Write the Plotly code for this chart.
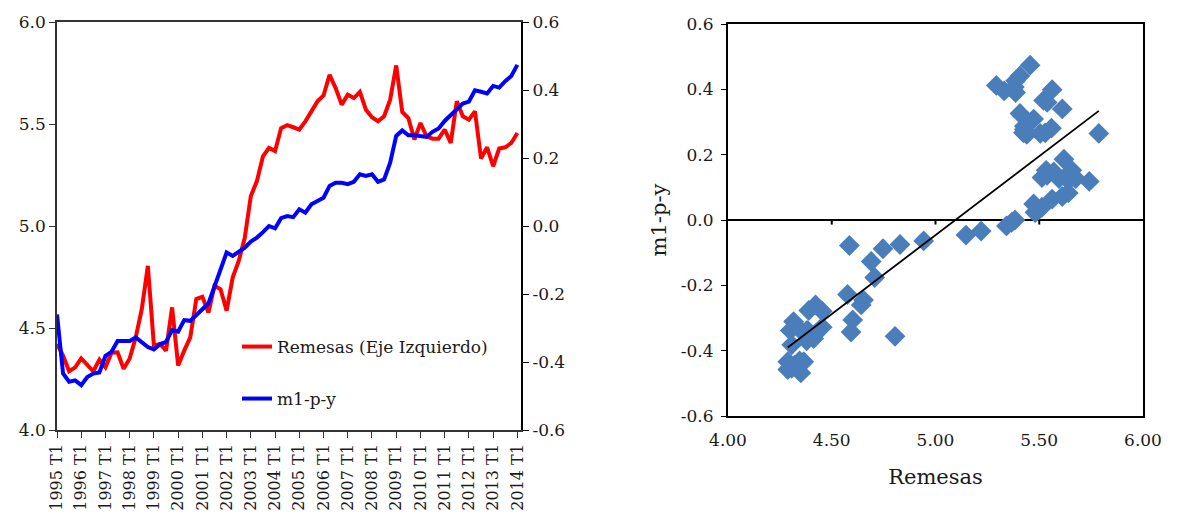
import numpy as np
import plotly.graph_objects as go

# ---------------- data ----------------
tick_labels = ["1995 T1", "1996 T1", "1997 T1", "1998 T1", "1999 T1", "2000 T1", "2001 T1",
               "2002 T1", "2003 T1", "2004 T1", "2005 T1", "2006 T1", "2007 T1", "2008 T1",
               "2009 T1", "2010 T1", "2011 T1", "2012 T1", "2013 T1", "2014 T1"]

remesas = [4.422, 4.365, 4.288, 4.307, 4.351, 4.321, 4.288, 4.345, 4.307, 4.379,
           4.381, 4.300, 4.351, 4.454, 4.593, 4.805, 4.413, 4.422, 4.389, 4.601,
           4.316, 4.389, 4.454, 4.642, 4.653, 4.576, 4.707, 4.690, 4.585, 4.747,
           4.829, 4.943, 5.147, 5.220, 5.342, 5.383, 5.367, 5.480, 5.494, 5.484,
           5.473, 5.513, 5.562, 5.611, 5.640, 5.741, 5.676, 5.595, 5.644, 5.627,
           5.657, 5.570, 5.533, 5.513, 5.538, 5.619, 5.787, 5.559, 5.529, 5.424,
           5.505, 5.440, 5.428, 5.428, 5.473, 5.407, 5.611, 5.538, 5.521, 5.562,
           5.331, 5.386, 5.293, 5.380, 5.386, 5.407, 5.456]

m1py = [-0.260, -0.434, -0.458, -0.454, -0.468, -0.444, -0.434, -0.431, -0.382, -0.370,
        -0.338, -0.338, -0.338, -0.328, -0.343, -0.356, -0.363, -0.348, -0.341, -0.306,
        -0.311, -0.277, -0.279, -0.260, -0.245, -0.228, -0.176, -0.127, -0.078, -0.088,
        -0.075, -0.064, -0.046, -0.034, -0.018, 0.000, -0.007, 0.023, 0.029, 0.026,
        0.049, 0.039, 0.064, 0.072, 0.083, 0.118, 0.127, 0.127, 0.123, 0.130,
        0.152, 0.147, 0.152, 0.130, 0.137, 0.186, 0.265, 0.281, 0.267, 0.267,
        0.265, 0.262, 0.277, 0.287, 0.309, 0.326, 0.340, 0.360, 0.366, 0.399,
        0.395, 0.390, 0.412, 0.407, 0.426, 0.441, 0.474]

left_ticks = [4.0, 4.5, 5.0, 5.5, 6.0]
right_ticks = [-0.6, -0.4, -0.2, 0.0, 0.2, 0.4, 0.6]
sc_x_ticks = [4.0, 4.5, 5.0, 5.5, 6.0]
sc_y_ticks = [-0.6, -0.4, -0.2, 0.0, 0.2, 0.4, 0.6]

# ---------------- derived ----------------
idx = list(range(len(remesas)))
tick_pos = idx[::4]
fmt1 = lambda v: f"{v:.1f}"
fmt2 = lambda v: f"{v:.2f}"

slope, intercept = np.polyfit(remesas, m1py, 1)
fit_x = [min(remesas), max(remesas)]
fit_y = [slope * v + intercept for v in fit_x]

FONT = "DejaVu Serif"
TXT = "#1a1a1a"
W, H = 1182, 516
OFF = 8  # page body margin

def px_x(a, b):
    return [(a - OFF) / W, (b - OFF) / W]

def px_y(top, bottom):
    return [1 - (bottom - OFF) / H, 1 - (top - OFF) / H]

fig = go.Figure()

fig.add_trace(go.Scatter(x=idx, y=remesas, mode="lines", name="Remesas (Eje Izquierdo)",
                         line=dict(color="#FF0000", width=4), xaxis="x", yaxis="y",
                         legend="legend"))
fig.add_trace(go.Scatter(x=idx, y=m1py, mode="lines", name="m1-p-y",
                         line=dict(color="#0000FF", width=4), xaxis="x", yaxis="y2",
                         legend="legend2"))

fig.add_trace(go.Scatter(x=remesas, y=m1py, mode="markers", showlegend=False,
                         marker=dict(symbol="diamond", size=16, color="#4A7EBB",
                                     line=dict(width=0)),
                         xaxis="x2", yaxis="y3"))
fig.add_trace(go.Scatter(x=fit_x, y=fit_y, mode="lines", showlegend=False,
                         line=dict(color="black", width=1.8), xaxis="x2", yaxis="y3"))

tickfont = dict(family=FONT, size=17, color=TXT)
axcol = "#333333"

fig.update_layout(
    width=W, height=H,
    margin=dict(l=0, r=0, t=0, b=0, autoexpand=False),
    paper_bgcolor="white", plot_bgcolor="white",
    font=dict(family=FONT, size=17, color=TXT),
    xaxis=dict(domain=px_x(57, 521), range=[0, 76.6], tickvals=tick_pos, ticktext=tick_labels,
               tickangle=-90, ticks="outside", ticklen=6, tickcolor=axcol, showgrid=False,
               zeroline=False, showline=True, linecolor=axcol, linewidth=1.5, mirror=True,
               tickfont=dict(family=FONT, size=16, color=TXT), anchor="y",
               automargin=False),
    yaxis=dict(domain=px_y(22, 430), range=[4, 6], tickvals=left_ticks,
               ticktext=[fmt1(v) for v in left_ticks], ticks="outside", ticklen=6,
               tickcolor=axcol, showgrid=False, zeroline=False, showline=True,
               linecolor=axcol, linewidth=1.5, tickfont=tickfont, anchor="x",
               automargin=False),
    yaxis2=dict(overlaying="y", side="right", anchor="x", range=[-0.6, 0.6],
                tickvals=right_ticks, ticktext=[fmt1(v) for v in right_ticks],
                ticks="outside", ticklen=6, tickcolor="black", showgrid=False,
                zeroline=False, showline=True, linecolor="black", linewidth=2,
                tickfont=tickfont, automargin=False),
    xaxis2=dict(domain=px_x(728, 1143), range=[4, 6], tickvals=sc_x_ticks,
                ticktext=[fmt2(v) for v in sc_x_ticks], ticks="", showgrid=False,
                zeroline=False, showline=True, linecolor="black", linewidth=2, mirror=True,
                tickfont=tickfont, anchor="y3", automargin=False, ticklabelstandoff=8,
                title=dict(text="Remesas", font=dict(family=FONT, size=21, color=TXT),
                           standoff=20)),
    yaxis3=dict(domain=px_y(24, 416), range=[-0.6, 0.6], tickvals=sc_y_ticks,
                ticktext=[fmt1(v) for v in sc_y_ticks], ticks="outside", ticklen=5,
                tickcolor="black", showgrid=False, zeroline=True, zerolinecolor="black",
                zerolinewidth=2, showline=True, linecolor="black", linewidth=2, mirror=True,
                tickfont=tickfont, anchor="x2", automargin=False, ticklabelstandoff=4,
                title=dict(text="m1-p-y", font=dict(family=FONT, size=21, color=TXT),
                           standoff=8)),
    legend=dict(x=(237 - OFF) / W, y=1 - (347 - OFF) / H, xanchor="left", yanchor="middle",
                bgcolor="rgba(0,0,0,0)", font=dict(family=FONT, size=17, color=TXT)),
    legend2=dict(x=(237 - OFF) / W, y=1 - (399 - OFF) / H, xanchor="left", yanchor="middle",
                 bgcolor="rgba(0,0,0,0)", font=dict(family=FONT, size=17, color=TXT)),
)

# small tick marks hanging from the zero line of the scatter (Excel-style axis crossing)
for v in sc_x_ticks[1:-1]:
    fig.add_shape(type="line", xref="x2", yref="y3", x0=v, x1=v, y0=0, y1=-0.014,
                  line=dict(color="black", width=2))

fig.write_html("out.html")
